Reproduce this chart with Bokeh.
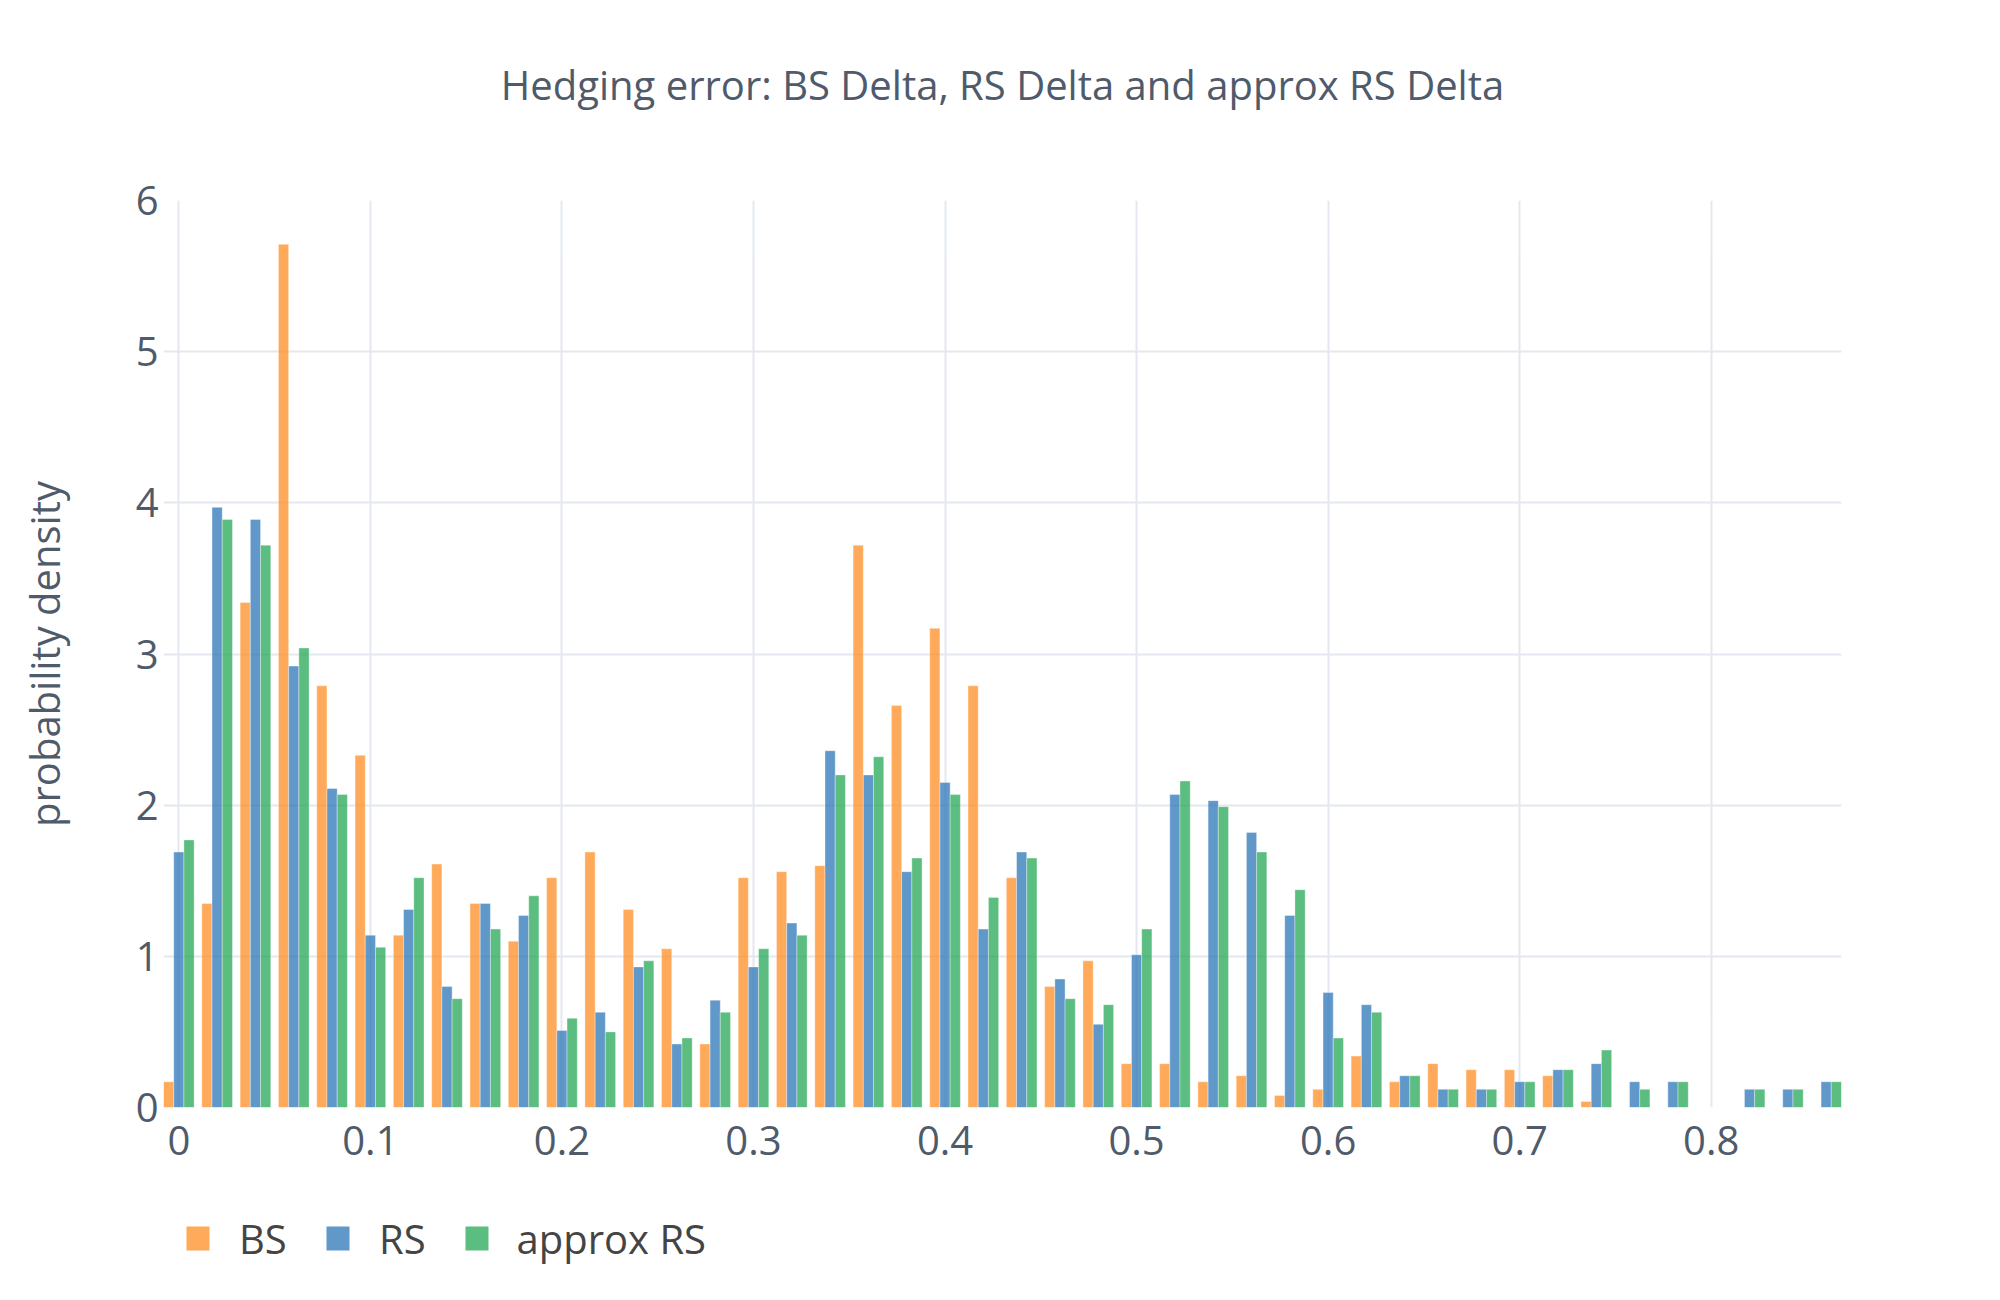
from bokeh.plotting import figure
from bokeh.layouts import column
from bokeh.models import Range1d, FixedTicker, ColumnDataSource, Title
from bokeh.core.properties import value
from bokeh.embed import file_html
from bokeh.resources import INLINE

# ---------------- data ----------------
bin_width = 0.02
bin_count = 44  # bins centred at 0, 0.02, ..., 0.86

bs_density = [0.17, 1.35, 3.34, 5.71, 2.79, 2.33, 1.14, 1.61, 1.35, 1.10,
              1.52, 1.69, 1.31, 1.05, 0.42, 1.52, 1.56, 1.60, 3.72, 2.66,
              3.17, 2.79, 1.52, 0.80, 0.97, 0.29, 0.29, 0.17, 0.21, 0.08,
              0.12, 0.34, 0.17, 0.29, 0.25, 0.25, 0.21, 0.04, 0.0, 0.0,
              0.0, 0.0, 0.0, 0.0]
rs_density = [1.69, 3.97, 3.89, 2.92, 2.11, 1.14, 1.31, 0.80, 1.35, 1.27,
              0.51, 0.63, 0.93, 0.42, 0.71, 0.93, 1.22, 2.36, 2.20, 1.56,
              2.15, 1.18, 1.69, 0.85, 0.55, 1.01, 2.07, 2.03, 1.82, 1.27,
              0.76, 0.68, 0.21, 0.12, 0.12, 0.17, 0.25, 0.29, 0.17, 0.17,
              0.0, 0.12, 0.12, 0.17]
approx_density = [1.77, 3.89, 3.72, 3.04, 2.07, 1.06, 1.52, 0.72, 1.18, 1.40,
                  0.59, 0.50, 0.97, 0.46, 0.63, 1.05, 1.14, 2.20, 2.32, 1.65,
                  2.07, 1.39, 1.65, 0.72, 0.68, 1.18, 2.16, 1.99, 1.69, 1.44,
                  0.46, 0.63, 0.21, 0.12, 0.12, 0.17, 0.25, 0.38, 0.12, 0.17,
                  0.0, 0.12, 0.12, 0.17]

series_names = ["BS", "RS", "approx RS"]
x_tick_values = [0, 0.1, 0.2, 0.3, 0.4, 0.5, 0.6, 0.7, 0.8]
x_tick_labels = ["0", "0.1", "0.2", "0.3", "0.4", "0.5", "0.6", "0.7", "0.8"]
y_tick_values = [0, 1, 2, 3, 4, 5, 6]
title_text = "Hedging error: BS Delta, RS Delta and approx RS Delta"
y_label = "probability density"

# ---------------- styling ----------------
colors = ["#FF8E23", "#2B76B8", "#24A754"]
bar_alpha = 0.75
font = "Open Sans"
text_color = "#4f5a6a"
legend_text_color = "#444444"
grid_color = "#E3E8F0"

canvas_w = 1984
border_left, border_right = 163, 143
border_top, border_bottom = 200, 80
frame_w = canvas_w - border_left - border_right
frame_h = 907
legend_h = 97

bin_centers = [i * bin_width for i in range(bin_count)]
group_frac = 0.8  # plotly-like bargap of 0.2
bar_w = bin_width * group_frac / 3.0
offsets = [-bar_w, 0.0, bar_w]

x_lo = -bin_width * group_frac / 2
x_hi = bin_centers[-1] + bin_width * group_frac / 2

p = figure(
    frame_width=frame_w, frame_height=frame_h,
    min_border_left=border_left, min_border_right=border_right,
    min_border_top=border_top, min_border_bottom=border_bottom,
    x_range=Range1d(x_lo, x_hi), y_range=Range1d(0, 6.0),
    output_backend="svg", toolbar_location=None,
    background_fill_color="white", border_fill_color="white",
    outline_line_color=None,
)

# title (outermost above) + spacer between title and frame
p.title.text = title_text
p.title.align = "center"
p.title.text_font = font
p.title.text_font_size = "40px"
p.title.text_font_style = "normal"
p.title.text_color = text_color
p.add_layout(Title(text=" ", text_font_size="64px"), "above")

for vals, col, off in zip([bs_density, rs_density, approx_density], colors, offsets):
    src = ColumnDataSource(dict(x=[c + off for c in bin_centers], top=vals))
    p.vbar(x="x", top="top", bottom=0, width=bar_w, source=src,
           fill_color=col, fill_alpha=bar_alpha,
           line_color="white", line_alpha=0.45, line_width=0.8)

# grid
p.xgrid.ticker = FixedTicker(ticks=x_tick_values)
p.ygrid.ticker = FixedTicker(ticks=y_tick_values)
for g in (p.xgrid[0], p.ygrid[0]):
    g.grid_line_color = grid_color
    g.grid_line_width = 2

# axes
for ax in (p.xaxis[0], p.yaxis[0]):
    ax.axis_line_color = None
    ax.major_tick_line_color = None
    ax.minor_tick_line_color = None
    ax.major_tick_out = 0
    ax.major_tick_in = 0
    ax.major_label_text_font = font
    ax.major_label_text_font_size = "40px"
    ax.major_label_text_color = text_color

p.xaxis.ticker = FixedTicker(ticks=x_tick_values)
p.xaxis.major_label_overrides = {v: l for v, l in zip(x_tick_values, x_tick_labels)}
p.xaxis.major_label_standoff = 18

p.yaxis.ticker = FixedTicker(ticks=y_tick_values)
p.yaxis.major_label_overrides = {v: str(v) for v in y_tick_values}
p.yaxis.major_label_standoff = 5
p.yaxis.axis_label = y_label
p.yaxis.axis_label_text_font = font
p.yaxis.axis_label_text_font_size = "40px"
p.yaxis.axis_label_text_font_style = "normal"
p.yaxis.axis_label_text_color = text_color
p.yaxis.axis_label_standoff = 61

# ---------------- legend strip (horizontal, below the chart) ----------------
# its frame is aligned with the main frame by the column layout, so its
# x range is expressed in page pixels starting at the main frame's left edge
leg = figure(
    frame_width=frame_w, frame_height=legend_h,
    min_border=0,
    x_range=Range1d(border_left, border_left + frame_w), y_range=Range1d(0, legend_h),
    x_axis_type=None, y_axis_type=None,
    output_backend="svg", toolbar_location=None,
    background_fill_color="white", border_fill_color="white",
    outline_line_color=None,
)
swatch_left = [186, 326, 465]
label_left = [238.5, 378.5, 516]
row_y = legend_h - 51
leg.rect(x=[s + 11.5 for s in swatch_left], y=[row_y] * 3, width=23, height=24,
         fill_color=colors, fill_alpha=bar_alpha, line_color=None)
leg.text(x=label_left, y=[row_y] * 3, text=series_names,
         text_font=value(font), text_font_size="40px",
         text_baseline="middle", text_align="left", text_color=legend_text_color)

layout = column(p, leg, spacing=0)
open("out.html", "w").write(file_html(layout, INLINE))
